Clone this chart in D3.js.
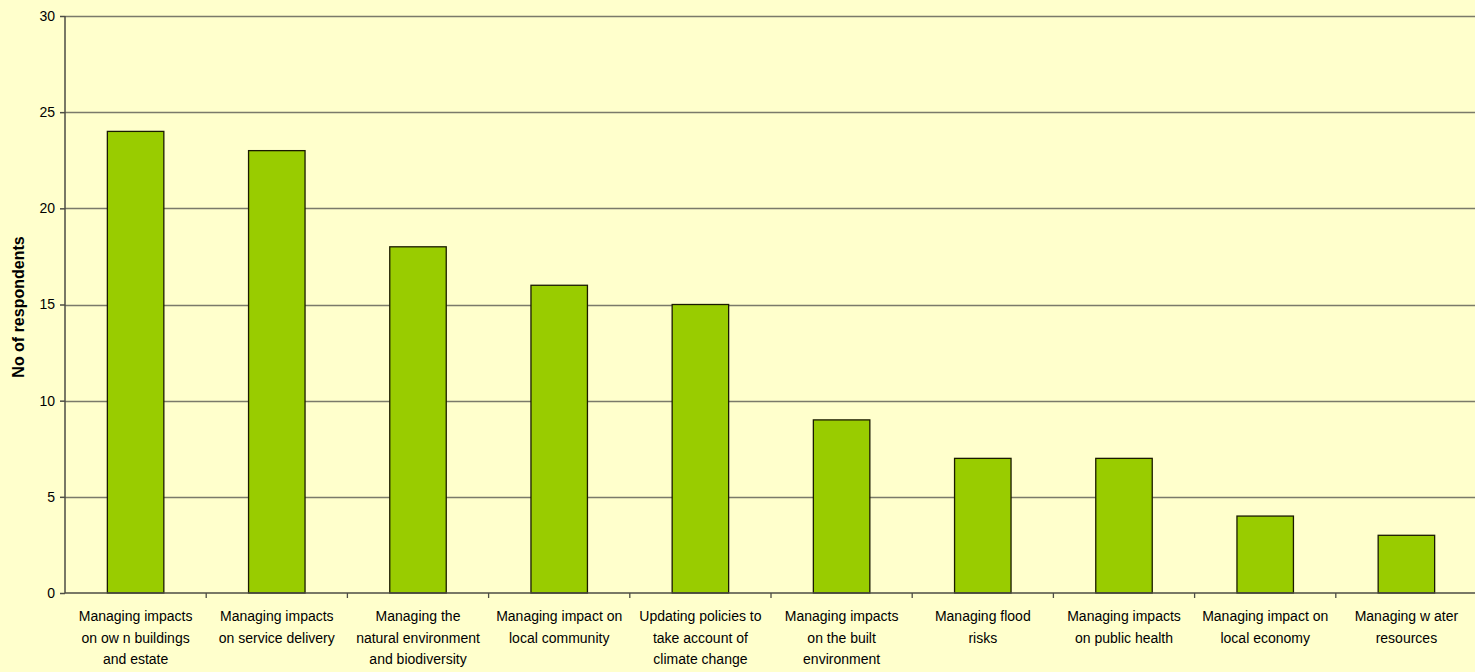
<!DOCTYPE html>
<html>
<head>
<meta charset="utf-8">
<script src="https://cdn.jsdelivr.net/npm/d3@7"></script>
<style>
    body { margin: 0; background: #ffffcc; }
    svg { display: block; }
    text { font-family: "Liberation Sans", Arial, sans-serif; fill: #000; }
</style>
</head>
<body>
<div id="chart"></div>
<script>
var categories = [
    ["Managing impacts", "on ow n buildings", "and estate"],
    ["Managing impacts", "on service delivery"],
    ["Managing the", "natural environment", "and biodiversity"],
    ["Managing impact on", "local community"],
    ["Updating policies to", "take account of", "climate change"],
    ["Managing impacts", "on the built", "environment"],
    ["Managing flood", "risks"],
    ["Managing impacts", "on public health"],
    ["Managing impact on", "local economy"],
    ["Managing w ater", "resources"]
];
var respondents = [24, 23, 18, 16, 15, 9, 7, 7, 4, 3];
var yTicks = [0, 5, 10, 15, 20, 25, 30];
var yTitle = "No of respondents";

var width = 1475
var height = 672
var margin = {top: 16, right: -2, bottom: 79, left: 65}

var svg = d3.select("#chart")
    .append("svg")
    .attr("width", width)
    .attr("height", height)

svg.append("rect")
    .attr("width", width)
    .attr("height", height)
    .attr("fill", "#ffffcc")

var x = d3.scaleBand()
    .domain(d3.range(categories.length))
    .range([margin.left, width - margin.right])
    .paddingInner(0.6)
    .paddingOuter(0.3)

var xBand = d3.scaleBand()
    .domain(d3.range(categories.length))
    .range([margin.left, width - margin.right])

var y = d3.scaleLinear()
    .domain([0, 30])
    .range([height - margin.bottom, margin.top])

// gridlines
svg.append("g")
    .selectAll("line")
    .data(yTicks.filter(function (d) { return d > 0; }))
    .enter()
    .append("line")
    .attr("x1", margin.left)
    .attr("x2", width)
    .attr("y1", function (d) { return Math.round(y(d)) + 0.5; })
    .attr("y2", function (d) { return Math.round(y(d)) + 0.5; })
    .attr("stroke", "#7a7a6a")
    .attr("stroke-width", 1.3)

// bars
svg.append("g")
    .selectAll("rect")
    .data(respondents)
    .enter()
    .append("rect")
    .attr("x", function (d, i) { return x(i); })
    .attr("y", function (d) { return y(d); })
    .attr("width", x.bandwidth())
    .attr("height", function (d) { return y(0) - y(d); })
    .attr("fill", "#99cc00")
    .attr("stroke", "#1a1a00")
    .attr("stroke-width", 1.3)

// y axis
var yAxis = svg.append("g")
    .attr("transform", "translate(" + margin.left + ",0)")
    .call(d3.axisLeft(y).tickValues(yTicks).tickSize(5).tickPadding(5))
yAxis.selectAll("path, line").attr("stroke", "#4d4d45").attr("stroke-width", 1.5)
yAxis.select(".domain").attr("d", "M0," + margin.top + "V" + y(0))
yAxis.selectAll("text")
    .style("font-family", "'Liberation Sans', Arial, sans-serif")
    .style("font-size", "14px")
    .attr("fill", "#000")

// x axis line and ticks at band edges
var xAxis = svg.append("g")
svg.append("line")
    .attr("x1", margin.left)
    .attr("x2", width)
    .attr("y1", y(0))
    .attr("y2", y(0))
    .attr("stroke", "#4d4d45")
    .attr("stroke-width", 1.5)
xAxis.selectAll("line")
    .data(d3.range(1, categories.length))
    .enter()
    .append("line")
    .attr("x1", function (i) { return xBand(i); })
    .attr("x2", function (i) { return xBand(i); })
    .attr("y1", y(0))
    .attr("y2", y(0) + 5)
    .attr("stroke", "#4d4d45")
    .attr("stroke-width", 1.3)

// category labels
var labels = svg.append("g")
    .selectAll("text")
    .data(categories)
    .enter()
    .append("text")
    .attr("text-anchor", "middle")
    .style("font-size", "14px")
    .attr("transform", function (d, i) {
        return "translate(" + (xBand(i) + xBand.bandwidth() / 2) + "," + (y(0) + 28) + ")";
    })
labels.selectAll("tspan")
    .data(function (d) { return d; })
    .enter()
    .append("tspan")
    .attr("x", 0)
    .attr("y", function (d, j) { return j * 21.5; })
    .text(function (d) { return d; })

// y axis title
svg.append("text")
    .attr("transform", "translate(24,307) rotate(-90)")
    .attr("text-anchor", "middle")
    .style("font-size", "16px")
    .style("font-weight", "bold")
    .text(yTitle)
</script>
</body>
</html>
